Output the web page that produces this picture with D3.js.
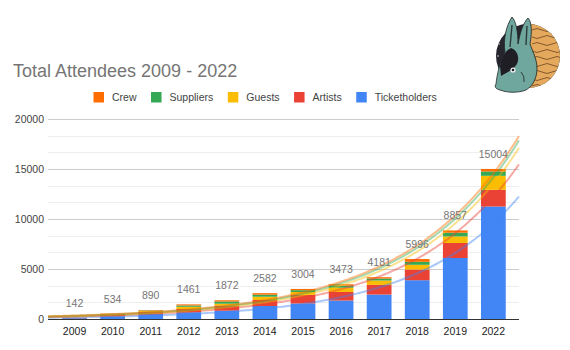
<!DOCTYPE html>
<html lang="en">
<head>
    <meta charset="UTF-8">
    <title>Total Attendees 2009 - 2022</title>
    <style>
        body { margin: 0; background: #fff; }
        text { font-family: "Liberation Sans", Arial, sans-serif; }
    </style>
</head>
<body>
    <svg width="570" height="350"></svg>

    <script src="https://d3js.org/d3.v7.min.js"></script>
    <script>

        // Data
        const years = ['2009', '2010', '2011', '2012', '2013', '2014', '2015', '2016', '2017', '2018', '2019', '2022'];
        const ticketholders = [80, 270, 520, 680, 830, 1300, 1550, 1850, 2450, 3880, 6100, 11250];
        const artists = [30, 150, 180, 320, 500, 600, 870, 850, 960, 1070, 1500, 1670];
        const guests = [15, 50, 90, 220, 200, 330, 280, 430, 440, 470, 660, 1400];
        const suppliers = [10, 34, 50, 130, 220, 200, 180, 210, 200, 300, 370, 430];
        const crew = [7, 30, 50, 111, 122, 152, 124, 133, 131, 276, 227, 254];
        const totals = [142, 534, 890, 1461, 1872, 2582, 3004, 3473, 4181, 5996, 8857, 15004];
        const yTicks = [0, 5000, 10000, 15000, 20000];

        // stacking order: bottom to top
        const seriesNames = ['Ticketholders', 'Artists', 'Guests', 'Suppliers', 'Crew'];
        const seriesValues = [ticketholders, artists, guests, suppliers, crew];
        const colors = ['#4285f4', '#ea4335', '#fbbc04', '#34a853', '#ff6d01'];

        const svg = d3.select('svg');

        const plot = { left: 48, right: 519, top: 119, bottom: 319 };

        const x = d3.scaleBand()
            .domain(years)
            .range([55.5, 512.4])
            .paddingInner(0.35)
            .paddingOuter(0.175);

        const y = d3.scaleLinear()
            .domain([0, 20000])
            .range([plot.bottom, plot.top]);

        // row index -> x of the band centre, used by the trendlines
        const xIdx = d3.scaleLinear()
            .domain([0, years.length - 1])
            .range([x(years[0]) + x.bandwidth() / 2, x(years[years.length - 1]) + x.bandwidth() / 2]);

        // Title
        svg.append('text')
            .attr('x', 13)
            .attr('y', 77)
            .attr('fill', '#757575')
            .style('font-size', '18px')
            .text('Total Attendees 2009 - 2022');

        // Legend (reverse stack order like the reference)
        const legend = svg.append('g');
        let lx = 93.5;
        seriesNames.slice().reverse().forEach(function (name, i) {
            const col = colors[seriesNames.length - 1 - i];
            legend.append('rect')
                .attr('x', lx)
                .attr('y', 92)
                .attr('width', 10.5)
                .attr('height', 10.5)
                .attr('fill', col);
            const t = legend.append('text')
                .attr('x', lx + 18.5)
                .attr('y', 101)
                .attr('fill', '#444')
                .style('font-size', '10.5px')
                .text(name);
            lx = lx + 18.5 + t.node().getComputedTextLength() + 14.5;
        });

        // Gridlines, minor then major
        const minor = d3.range(0, 20001, 5000 / 3);
        svg.append('g')
            .selectAll('line')
            .data(minor)
            .join('line')
            .attr('x1', plot.left)
            .attr('x2', plot.right)
            .attr('y1', function (d) { return Math.round(y(d)) + 0.5; })
            .attr('y2', function (d) { return Math.round(y(d)) + 0.5; })
            .attr('stroke', '#eeeeee');

        const yAxisG = svg.append('g')
            .attr('transform', 'translate(' + plot.left + ' 0)')
            .call(d3.axisLeft(y)
                .tickValues(yTicks)
                .tickSize(-(plot.right - plot.left))
                .tickPadding(4)
                .tickFormat(d3.format('d')));
        yAxisG.select('.domain').remove();
        yAxisG.selectAll('.tick line').attr('stroke', '#cccccc');
        yAxisG.selectAll('.tick text')
            .attr('fill', '#444')
            .style('font-size', '10.5px')
            .style('font-family', '"Liberation Sans", Arial, sans-serif');

        // Stacked bars
        const rows = years.map(function (yr, i) {
            const row = { year: yr };
            seriesNames.forEach(function (n, k) { row[n] = seriesValues[k][i]; });
            return row;
        });
        const stacked = d3.stack().keys(seriesNames)(rows);

        svg.append('g')
            .selectAll('g')
            .data(stacked)
            .join('g')
            .attr('fill', function (d, k) { return colors[k]; })
            .selectAll('rect')
            .data(function (d) { return d; })
            .join('rect')
            .attr('x', function (d) { return x(d.data.year); })
            .attr('width', x.bandwidth())
            .attr('y', function (d) { return y(d[1]); })
            .attr('height', function (d) { return y(d[0]) - y(d[1]); });

        // Exponential trendlines: log-linear fit of each cumulative series against row index
        const tStart = xIdx.invert(plot.left);
        const tEnd = xIdx.invert(plot.right);
        const trendLine = d3.line()
            .x(function (d) { return xIdx(d[0]); })
            .y(function (d) { return y(d[1]); });

        const trendG = svg.append('g');
        stacked.forEach(function (layer, k) {
            const pts = layer.map(function (d, i) { return [i, Math.log(d[1])]; });
            const mx = d3.mean(pts, function (p) { return p[0]; });
            const my = d3.mean(pts, function (p) { return p[1]; });
            const b = d3.sum(pts, function (p) { return (p[0] - mx) * (p[1] - my); }) /
                d3.sum(pts, function (p) { return (p[0] - mx) * (p[0] - mx); });
            const a = my - b * mx;
            const curve = d3.range(tStart, tEnd, 0.05).concat([tEnd]).map(function (t) {
                return [t, Math.exp(a + b * t)];
            });
            trendG.append('path')
                .attr('d', trendLine(curve))
                .attr('fill', 'none')
                .attr('stroke', colors[k])
                .attr('stroke-opacity', 0.45)
                .attr('stroke-width', 2);
        });

        // Baseline
        svg.append('line')
            .attr('x1', plot.left)
            .attr('x2', plot.right)
            .attr('y1', plot.bottom + 0.5)
            .attr('y2', plot.bottom + 0.5)
            .attr('stroke', '#333')
            .attr('stroke-width', 1);

        // Total labels
        svg.append('g')
            .selectAll('text')
            .data(totals)
            .join('text')
            .attr('x', function (d, i) { return x(years[i]) + x.bandwidth() / 2; })
            .attr('y', function (d) { return y(d) - 11; })
            .attr('text-anchor', 'middle')
            .attr('fill', '#757575')
            .style('font-size', '10.5px')
            .text(function (d) { return d; });

        // X axis labels
        const xAxisG = svg.append('g')
            .attr('transform', 'translate(0 ' + plot.bottom + ')')
            .call(d3.axisBottom(x).tickSize(0).tickPadding(9));
        xAxisG.select('.domain').remove();
        xAxisG.selectAll('.tick text')
            .attr('fill', '#222')
            .style('font-size', '10.5px')
            .style('font-family', '"Liberation Sans", Arial, sans-serif');

        // Logo: rabbit badge, top right
        const logo = svg.append('g');
        logo.append('clipPath').attr('id', 'badge')
            .append('circle').attr('cx', 528).attr('cy', 56).attr('r', 32);
        const badge = logo.append('g').attr('clip-path', 'url(#badge)');
        badge.append('rect').attr('x', 490).attr('y', 20).attr('width', 80).attr('height', 80).attr('fill', '#26242c');
        badge.append('path')
            .attr('d', 'M524,20 C530,45 536,70 526,95 L565,95 L565,20 Z')
            .attr('fill', '#e4a95c');
        [30, 37, 44, 51, 58, 65, 72, 79, 86].forEach(function (yy, i) {
            badge.append('path')
                .attr('d', 'M532,' + yy + ' q5,' + (i % 2 ? 3 : -3) + ' 10,0 t10,0 t10,0')
                .attr('fill', 'none')
                .attr('stroke', '#7a5028')
                .attr('stroke-width', 0.9);
        });
        [[499, 44], [502, 36], [498, 56], [504, 30], [500, 70]].forEach(function (p) {
            badge.append('circle').attr('cx', p[0]).attr('cy', p[1]).attr('r', 0.8).attr('fill', '#ddd');
        });
        logo.append('path')
            .attr('d', 'M496,84 C497,74 500,62 505,52 C503,40 506,26 512,17 C516,21 518,32 518,44 C520,33 523,23 528,18 C532,22 532,33 530,44 C533,52 537,60 537,68 C537,78 533,86 526,90 C518,93 508,93 500,90 C496,89 494,87 496,84 Z')
            .attr('fill', '#6fa69e')
            .attr('stroke', '#1e2424')
            .attr('stroke-width', 0.8);
        logo.append('path')
            .attr('d', 'M500,66 C502,57 505,51 511,48 C517,50 520,57 517,64 C513,70 508,72 501,76 Z')
            .attr('fill', '#1f1e25');
        logo.append('path')
            .attr('d', 'M510,47 L512,25 M526,45 L527,26')
            .attr('stroke', '#2c3b3a')
            .attr('stroke-width', 1.4);
        logo.append('circle').attr('cx', 513).attr('cy', 70).attr('r', 2.6).attr('fill', '#f2f2f2');
        logo.append('circle').attr('cx', 513).attr('cy', 70).attr('r', 1.3).attr('fill', '#1f1e25');
        logo.append('path')
            .attr('d', 'M521,72 q4,4 3,10')
            .attr('fill', 'none')
            .attr('stroke', '#1e2424')
            .attr('stroke-width', 0.8);

    </script>
</body>
</html>
